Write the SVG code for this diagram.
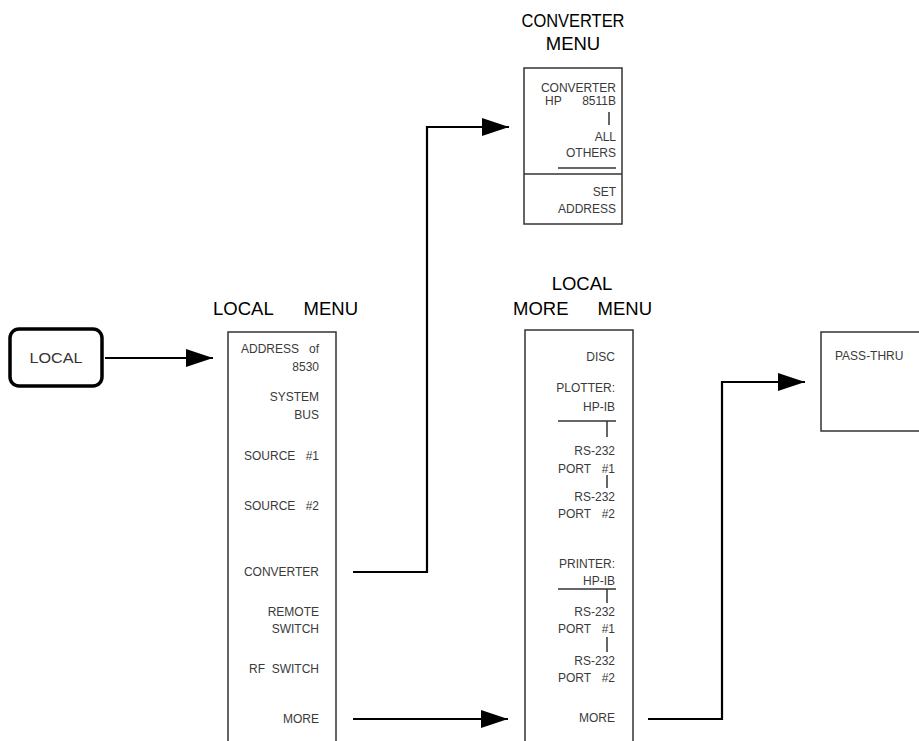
<svg xmlns="http://www.w3.org/2000/svg" width="919" height="741" viewBox="0 0 919 741">
<defs>
<style>
.t{font-family:"Liberation Sans",Arial,sans-serif;font-size:12px;fill:#3a3a3a;text-anchor:end}
.ts{font-family:"Liberation Sans",Arial,sans-serif;font-size:12px;fill:#3a3a3a}
.h{font-family:"Liberation Sans",Arial,sans-serif;font-size:18.5px;fill:#000;text-anchor:middle}
.hs{font-family:"Liberation Sans",Arial,sans-serif;font-size:18.5px;fill:#000}
.e{text-anchor:end}
.box{fill:#fff;stroke:#333;stroke-width:1.5}
.ln{stroke:#333;stroke-width:1.5;fill:none}
.c{stroke:#000;stroke-width:2.2;fill:none}
</style>
<marker id="ah" markerWidth="28" markerHeight="18" refX="27" refY="9" orient="auto" markerUnits="userSpaceOnUse">
<path d="M0,0 L27,9 L0,18 Z" fill="#000"/>
</marker>
</defs>
<rect width="919" height="741" fill="#fff"/>

<g id="local-key">
<rect x="10" y="329" width="92" height="57" rx="9" ry="9" fill="#fff" stroke="#000" stroke-width="3.5"/>
<text x="56" y="363" style="font-family:'Liberation Sans',Arial,sans-serif;font-size:15px;fill:#333;text-anchor:middle" textLength="53" lengthAdjust="spacingAndGlyphs">LOCAL</text>
</g>

<g id="local-menu">
<text class="hs" y="315"><tspan x="213">LOCAL</tspan> <tspan x="358" class="e">MENU</tspan></text>
<path class="ln" d="M228,741 V332 H336 V741"/>
<text class="ts" y="353"><tspan x="241">ADDRESS</tspan> <tspan x="319" class="e">of</tspan></text>
<text class="t" x="319" y="371">8530</text>
<text class="t" x="319" y="401">SYSTEM</text>
<text class="t" x="319" y="419">BUS</text>
<text class="ts" y="460"><tspan x="244">SOURCE</tspan> <tspan x="319" class="e">#1</tspan></text>
<text class="ts" y="510"><tspan x="244">SOURCE</tspan> <tspan x="319" class="e">#2</tspan></text>
<text class="t" x="319" y="576">CONVERTER</text>
<text class="t" x="319" y="616">REMOTE</text>
<text class="t" x="319" y="633">SWITCH</text>
<text class="ts" y="673"><tspan x="249">RF</tspan> <tspan x="319" class="e">SWITCH</tspan></text>
<text class="t" x="319" y="723">MORE</text>
</g>

<g id="converter-menu">
<text class="h" x="573" y="27" textLength="103" lengthAdjust="spacingAndGlyphs">CONVERTER</text>
<text class="h" x="573" y="50">MENU</text>
<rect class="box" x="524" y="68" width="98" height="156"/>
<line class="ln" x1="524" y1="174" x2="622" y2="174"/>
<text class="t" x="616" y="92">CONVERTER</text>
<text class="ts" y="105"><tspan x="545">HP</tspan> <tspan x="616" class="e">8511B</tspan></text>
<line class="ln" x1="609" y1="112" x2="609" y2="125"/>
<text class="t" x="616" y="141">ALL</text>
<text class="t" x="616" y="157">OTHERS</text>
<line class="ln" x1="558" y1="168" x2="616" y2="168"/>
<text class="t" x="616" y="196">SET</text>
<text class="t" x="616" y="213">ADDRESS</text>
</g>

<g id="local-more-menu">
<text class="h" x="582" y="290">LOCAL</text>
<text class="hs" y="315"><tspan x="513">MORE</tspan> <tspan x="652" class="e">MENU</tspan></text>
<path class="ln" d="M525,741 V330 H633 V741"/>
<text class="t" x="615" y="361">DISC</text>
<text class="t" x="615" y="392">PLOTTER:</text>
<text class="t" x="615" y="411">HP-IB</text>
<line class="ln" x1="558" y1="421" x2="616" y2="421"/>
<line class="ln" x1="607" y1="421" x2="607" y2="437"/>
<text class="t" x="615" y="455">RS-232</text>
<text class="ts" y="473"><tspan x="558">PORT</tspan> <tspan x="615" class="e">#1</tspan></text>
<line class="ln" x1="607" y1="475" x2="607" y2="488"/>
<text class="t" x="615" y="501">RS-232</text>
<text class="ts" y="518"><tspan x="558">PORT</tspan> <tspan x="615" class="e">#2</tspan></text>
<text class="t" x="615" y="568">PRINTER:</text>
<text class="t" x="615" y="585">HP-IB</text>
<line class="ln" x1="558" y1="589" x2="616" y2="589"/>
<line class="ln" x1="607" y1="589" x2="607" y2="603"/>
<text class="t" x="615" y="616">RS-232</text>
<text class="ts" y="633"><tspan x="558">PORT</tspan> <tspan x="615" class="e">#1</tspan></text>
<line class="ln" x1="607" y1="637" x2="607" y2="652"/>
<text class="t" x="615" y="665">RS-232</text>
<text class="ts" y="682"><tspan x="558">PORT</tspan> <tspan x="615" class="e">#2</tspan></text>
<text class="t" x="615" y="722">MORE</text>
</g>

<g id="pass-thru">
<path class="ln" d="M919,332 H821 V431 H919"/>
<text class="ts" x="835" y="360">PASS-THRU</text>
</g>

<g id="connectors">
<path class="c" d="M105,358 H213" marker-end="url(#ah)"/>
<path class="c" d="M353,572 H427 V127 H509" marker-end="url(#ah)"/>
<path class="c" d="M353,719 H508" marker-end="url(#ah)"/>
<path class="c" d="M648,719 H722 V382 H805" marker-end="url(#ah)"/>
</g>
</svg>
